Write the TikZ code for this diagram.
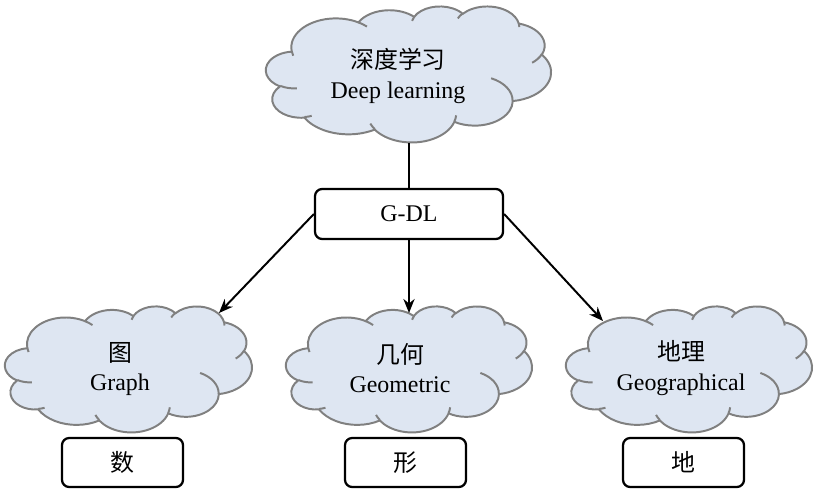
\documentclass[tikz,border=0pt]{standalone}
\usepackage{fontspec}
\setmainfont{Liberation Serif}
\newfontfamily\cjk{Noto Sans CJK SC}
\usetikzlibrary{positioning,arrows.meta}

\definecolor{cloudfill}{RGB}{222,230,242}
\definecolor{cloudline}{RGB}{128,128,128}

% one puff of the cloud, angles measured on the ellipse
\newcommand\cloudarc[4]{%
  \pgfextra{%
    \pgfmathsetmacro\arcst{#3+mod(atan2(#1*sin(#3),#2*cos(#3))-(#3)+900,360)-180}%
    \pgfmathsetmacro\arcen{#3+#4+mod(atan2(#1*sin(#3+#4),#2*cos(#3+#4))-(#3+#4)+900,360)-180}%
    \global\let\arcst\arcst \global\let\arcen\arcen}%
  arc[x radius=#1, y radius=#2, start angle=\arcst, end angle=\arcen]}

% cloud: top-left corner, width, height (cm)
\newcommand\drawcloud[3]{%
  \begin{scope}[shift={#1}, xscale=#2/100, yscale=-#3/100]
    \draw[cloud] (9.028,33.264)
      \cloudarc{15.632}{21.273}{-190.4875}{123.7805}
      \cloudarc{12.345}{16.822}{-144.1024}{89.9452}
      \cloudarc{10.104}{13.762}{-145.8079}{99.7230}
      \cloudarc{11.243}{15.266}{-130.9861}{117.2417}
      \cloudarc{12.345}{16.836}{-78.7089}{109.0269}
      \cloudarc{15.683}{21.343}{-46.2673}{130.2690}
      \cloudarc{13.391}{18.211}{0.6250}{114.0333}
      \cloudarc{15.630}{21.331}{22.4516}{115.1726}
      \cloudarc{17.870}{24.405}{66.2426}{75.7110}
      \cloudarc{10.093}{13.699}{-274.9421}{146.7356}
      \cloudarc{10.058}{13.762}{-246.8285}{152.5189}
      -- cycle;
    % inner strokes
    \draw[cloud, fill=none]
      (10.863,60.595) \cloudarc{10.058}{13.762}{86.742}{26.4295}
      (16.037,80.785) \cloudarc{10.093}{13.699}{73.6105}{11.4475}
      (38.144,90.486) \cloudarc{15.630}{21.331}{137.6242}{14.0811}
      (66.729,80.442) \cloudarc{15.630}{21.331}{6.4533}{15.9984}
      (79.002,53.134) \cloudarc{13.391}{18.211}{-70.2924}{70.9174}
      (96.755,35.542) \cloudarc{12.345}{16.836}{30.3180}{27.7515}
      (88.713,12.560) \cloudarc{11.243}{15.266}{-13.7443}{14.8589}
      (67.310,9.148) \cloudarc{11.243}{15.266}{-149.1815}{18.1954}
      (51.252,10.926) \cloudarc{10.104}{13.762}{-163.4943}{17.6864}
      (32.407,12.019) \cloudarc{15.632}{21.273}{-66.7070}{12.3194}
      (9.553,36.549) \cloudarc{15.632}{21.273}{157.6544}{11.8582};
  \end{scope}}

\begin{document}
\begin{tikzpicture}[
    cloud/.style={draw=cloudline, fill=cloudfill, line width=1.4pt},
    label/.style={align=center, font=\fontsize{17}{21}\selectfont},
    box/.style={draw, line width=1.6pt, rounded corners=0.18cm, fill=white,
      minimum height=1.25cm, font=\fontsize{17}{21}\selectfont},
    link/.style={line width=1.4pt},
    arrow/.style={link, -{Stealth[length=10pt, width=8pt]}}]
  \useasboundingbox (0,0) rectangle (20.475,12.35);

  % Clouds
  \drawcloud{(6.65,12.2)}{7.125}{3.4}
  \drawcloud{(0.125,4.7)}{6.175}{3.15}
  \drawcloud{(7.15,4.7)}{6.15}{3.15}
  \drawcloud{(14.15,4.7)}{6.15}{3.15}

  \node[label] (deep) at (9.95,10.45) {{\cjk 深度学习}\\Deep learning};
  \node[label] (graph) at (3.0,3.125) {{\cjk 图}\\Graph};
  \node[label] (geom) at (10.0,3.15) {{\cjk 几何}\\Geometric};
  \node[label] (geog) at (17.025,3.15) {{\cjk 地理}\\Geographical};

  % Boxes
  \node[box, minimum width=4.7cm] (gdl) at (10.225,7.0) {G-DL};
  \node[box, minimum width=3.025cm, minimum height=1.225cm] (shu) at (3.0625,0.7875) {\cjk 数};
  \node[box, minimum width=3.025cm, minimum height=1.225cm] (xing) at (10.1375,0.7875) {\cjk 形};
  \node[box, minimum width=3.025cm, minimum height=1.225cm] (di) at (17.0875,0.7875) {\cjk 地};

  % Links
  \coordinate (deep-bot) at (10.225,8.775);
  \coordinate (graph-in) at (5.475,4.525);
  \coordinate (geom-in) at (10.225,4.525);
  \coordinate (geog-in) at (15.075,4.325);
  \draw[link] (deep-bot) -- (gdl.north);
  \draw[arrow] (gdl.west) -- (graph-in);
  \draw[arrow] (gdl.south) -- (geom-in);
  \draw[arrow] (gdl.east) -- (geog-in);
\end{tikzpicture}
\end{document}
